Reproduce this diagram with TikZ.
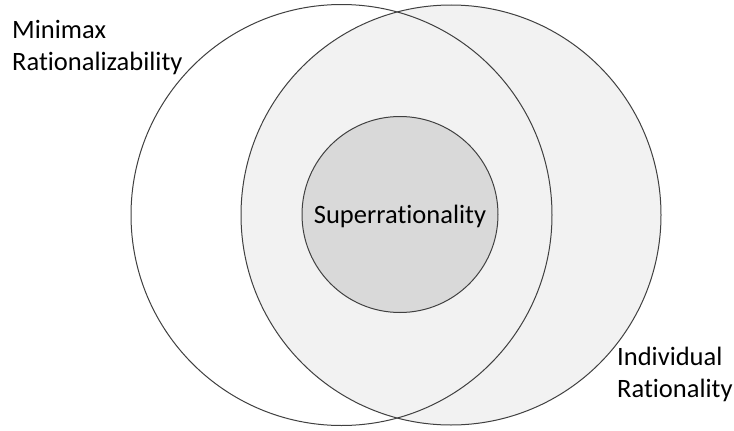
\documentclass[tikz,border=0pt]{standalone}
\usepackage{fontspec}
\setmainfont{Carlito}[Ligatures=NoCommon]
\definecolor{edge}{HTML}{404040}
\definecolor{outerfill}{HTML}{F2F2F2}
\definecolor{innerfill}{HTML}{D9D9D9}
\begin{document}
\begin{tikzpicture}[x=1pt,y=-1pt,
  ring/.style={circle, draw=edge, line width=1pt, inner sep=0pt, outer sep=0pt},
  lbl/.style={font=\fontsize{26.5}{32}\selectfont, inner sep=0pt, align=left, text=black}]
\useasboundingbox (0,0) rectangle (734,431);
\node[ring, fill=outerfill, minimum size=420pt] (ir) at (451,215) {};
\node[ring, minimum size=421pt] (mm) at (341.5,215) {};
\node[ring, fill=innerfill, minimum size=196pt, text depth=1pt, font=\fontsize{26.5}{31}\selectfont] (sr) at (400,214.5) {Superrationality};
\node[lbl, anchor=base west] (mmlbl) at (12,70) {Minimax\\Rationalizability};
\node[lbl, anchor=base west] (irlbl) at (617,397) {Individual\\Rationality};
\end{tikzpicture}
\end{document}
